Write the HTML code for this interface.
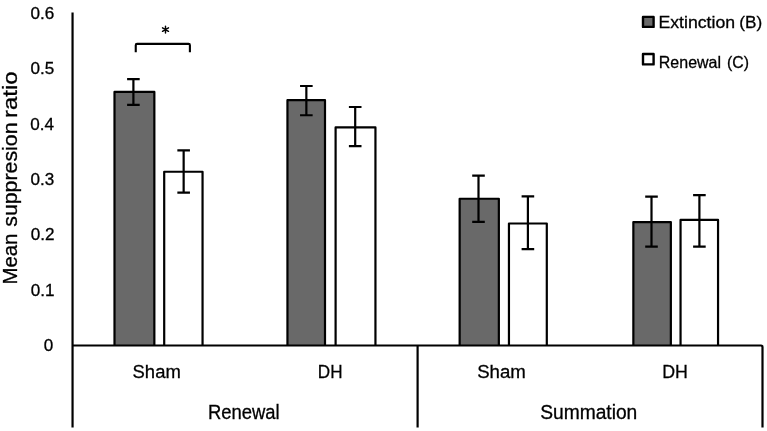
<!DOCTYPE html>
<html><head><meta charset="utf-8"><style>
html,body{margin:0;padding:0;background:#fff;width:767px;height:431px;overflow:hidden}
svg{display:block;will-change:transform}
text{font-family:"Liberation Sans", sans-serif;fill:#000;stroke:#000;stroke-width:0.3px}
</style></head><body>
<svg width="767" height="431" viewBox="0 0 767 431">
<rect x="114.50" y="91.90" width="39.85" height="253.60" fill="#696969"/>
<path d="M114.50 345.5V91.90H154.35V345.5" fill="none" stroke="#000" stroke-width="2.2" stroke-linejoin="round"/>
<rect x="164.20" y="171.75" width="38.35" height="173.75" fill="#fff"/>
<path d="M164.20 345.5V171.75H202.55V345.5" fill="none" stroke="#000" stroke-width="2.2" stroke-linejoin="round"/>
<rect x="287.45" y="100.20" width="37.55" height="245.30" fill="#696969"/>
<path d="M287.45 345.5V100.20H325.00V345.5" fill="none" stroke="#000" stroke-width="2.2" stroke-linejoin="round"/>
<rect x="335.60" y="127.45" width="39.85" height="218.05" fill="#fff"/>
<path d="M335.60 345.5V127.45H375.45V345.5" fill="none" stroke="#000" stroke-width="2.2" stroke-linejoin="round"/>
<rect x="459.65" y="198.75" width="39.20" height="146.75" fill="#696969"/>
<path d="M459.65 345.5V198.75H498.85V345.5" fill="none" stroke="#000" stroke-width="2.2" stroke-linejoin="round"/>
<rect x="508.95" y="223.50" width="37.85" height="122.00" fill="#fff"/>
<path d="M508.95 345.5V223.50H546.80V345.5" fill="none" stroke="#000" stroke-width="2.2" stroke-linejoin="round"/>
<rect x="633.35" y="222.10" width="37.50" height="123.40" fill="#696969"/>
<path d="M633.35 345.5V222.10H670.85V345.5" fill="none" stroke="#000" stroke-width="2.2" stroke-linejoin="round"/>
<rect x="680.55" y="219.90" width="37.50" height="125.60" fill="#fff"/>
<path d="M680.55 345.5V219.90H718.05V345.5" fill="none" stroke="#000" stroke-width="2.2" stroke-linejoin="round"/>
<path d="M133.40 79.10V104.80M127.10 79.10H139.70M127.10 104.80H139.70" stroke="#000" stroke-width="2.2" fill="none"/>
<path d="M183.65 150.40V192.60M177.35 150.40H189.95M177.35 192.60H189.95" stroke="#000" stroke-width="2.2" fill="none"/>
<path d="M306.35 86.00V115.25M300.05 86.00H312.65M300.05 115.25H312.65" stroke="#000" stroke-width="2.2" fill="none"/>
<path d="M355.20 107.00V146.10M348.90 107.00H361.50M348.90 146.10H361.50" stroke="#000" stroke-width="2.2" fill="none"/>
<path d="M478.50 175.55V221.80M472.20 175.55H484.80M472.20 221.80H484.80" stroke="#000" stroke-width="2.2" fill="none"/>
<path d="M527.90 196.40V249.10M521.60 196.40H534.20M521.60 249.10H534.20" stroke="#000" stroke-width="2.2" fill="none"/>
<path d="M651.50 196.70V246.70M645.20 196.70H657.80M645.20 246.70H657.80" stroke="#000" stroke-width="2.2" fill="none"/>
<path d="M699.40 195.10V246.70M693.10 195.10H705.70M693.10 246.70H705.70" stroke="#000" stroke-width="2.2" fill="none"/>
<path d="M72.55 12.5V427.5" stroke="#000" stroke-width="2.2"/>
<path d="M72 345.5H761Q762.5 345.5 762.5 347.0V427.5" stroke="#000" stroke-width="2.2" fill="none"/>
<path d="M417.6 345.5V427.5" stroke="#000" stroke-width="2.2"/>
<path d="M135.75 52.3V45.15Q135.75 43.85 137.05 43.85H188.6Q189.9 43.85 189.9 45.15V52.3" stroke="#000" stroke-width="2.1" fill="none"/>
<path d="M165.5 26.150000000000002V33.050000000000004M162.51 27.88L168.49 31.33M162.51 31.33L168.49 27.88" stroke="#000" stroke-width="1.45" stroke-linecap="round"/>
<text transform="translate(30.58,18.85) scale(1.03,1)" font-size="16.6">0.6</text>
<text transform="translate(30.55,74.23) scale(1.03,1)" font-size="16.6">0.5</text>
<text transform="translate(30.33,129.61) scale(1.03,1)" font-size="16.6">0.4</text>
<text transform="translate(30.58,184.99) scale(1.03,1)" font-size="16.6">0.3</text>
<text transform="translate(30.69,240.37) scale(1.03,1)" font-size="16.6">0.2</text>
<text transform="translate(30.67,295.75) scale(1.03,1)" font-size="16.6">0.1</text>
<text transform="translate(43.66,351.38) scale(1.03,1)" font-size="16.6">0</text>
<text transform="translate(16.55,284.47) rotate(-90) scale(1.0050,1)" font-size="20.2">Mean</text>
<text transform="translate(16.55,226.79) rotate(-90) scale(1.0573,1)" font-size="20.2">suppresion</text>
<text transform="translate(16.55,117.99) rotate(-90) scale(1.1831,1)" font-size="20.2">ratio</text>
<text transform="translate(132.56,378.00) scale(0.9985,1)" font-size="18.5">Sham</text>
<text transform="translate(317.80,378.00) scale(0.8952,1)" font-size="19.1">DH</text>
<text transform="translate(477.15,378.00) scale(1.0072,1)" font-size="18.5">Sham</text>
<text transform="translate(662.14,378.00) scale(0.9320,1)" font-size="19.1">DH</text>
<text transform="translate(207.89,419.40) scale(0.9360,1)" font-size="19.7">Renewal</text>
<text transform="translate(540.13,419.40) scale(0.9960,1)" font-size="19.3">Summation</text>
<rect x="643" y="16.9" width="10.6" height="10.0" fill="#696969" stroke="#000" stroke-width="2.4" stroke-linejoin="round"/>
<rect x="643" y="54.05" width="10.6" height="10.35" fill="#fff" stroke="#000" stroke-width="2.4" stroke-linejoin="round"/>
<text transform="translate(658.45,27.70) scale(1.0468,1)" font-size="16.9">Extinction</text>
<text transform="translate(739.23,27.70) scale(1.0180,1)" font-size="16.9">(B)</text>
<text transform="translate(658.79,67.90) scale(0.9585,1)" font-size="16.7">Renewal</text>
<text transform="translate(727.02,67.90) scale(0.9474,1)" font-size="16.7">(C)</text>
</svg>
</body></html>
